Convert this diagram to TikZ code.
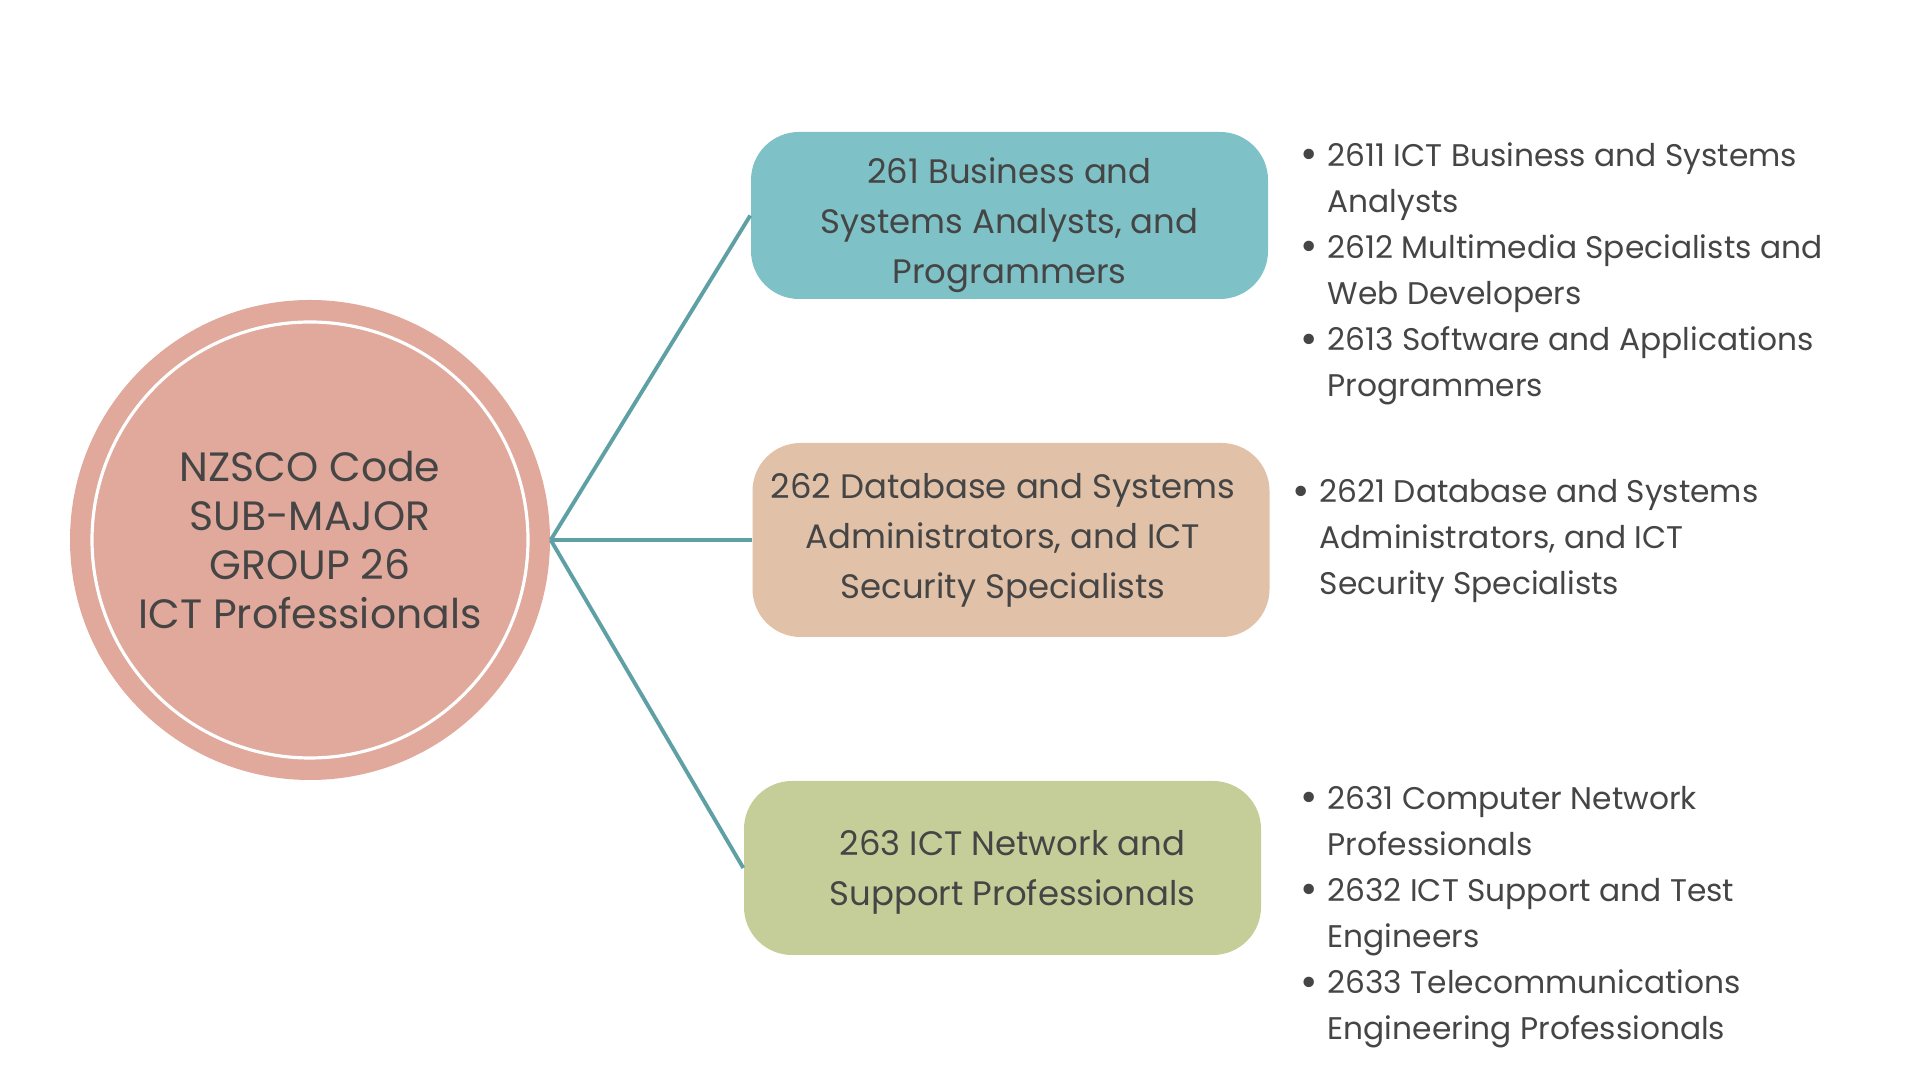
\documentclass[tikz,border=0pt]{standalone}
\usepackage{fontspec}
\setmainfont{Poppins}
\definecolor{kreisrot}{HTML}{E0A99B}
\definecolor{tuerkis}{HTML}{7EC1C6}
\definecolor{pfirsich}{HTML}{E1C2A8}
\definecolor{oliv}{HTML}{C5CE98}
\definecolor{linie}{HTML}{5FA0A4}
\definecolor{schrift}{HTML}{454545}
\newcommand{\pkt}{\makebox[0.27cm][l]{\raisebox{-0.6pt}{\scalebox{1.35}{•}}}}
\newcommand{\einr}{\hspace*{0.27cm}}
\begin{document}
\begin{tikzpicture}[
    kasten/.style={rounded corners=0.48cm, minimum width=5.17cm},
    kastentext/.style={text=schrift, align=center, font=\fontsize{9.65}{14.2}\selectfont},
    liste/.style={anchor=base west, inner sep=0pt, align=left, text=schrift, font=\fontsize{8.9}{13.1}\selectfont},
    verbindung/.style={draw=linie, line width=1.1pt}
]
            \useasboundingbox (0,0) rectangle (19.2,10.8);

            % Kreis
            \node[circle, fill=kreisrot, minimum size=4.8cm, inner sep=0pt, text=schrift, align=center, font=\fontsize{11.65}{14.0}\selectfont] (kreis) at (3.10, 5.40) {NZSCO Code\\SUB-MAJOR\\GROUP 26\\ICT Professionals};
            \draw[white, line width=0.9pt] (kreis.center) circle (2.18cm);

            % Kaesten
            \node[kasten, fill=tuerkis, minimum height=1.67cm, label={[kastentext, yshift=-0.10cm]center:261 Business and\\Systems Analysts, and\\Programmers}] (k261) at (10.095, 8.645) {};
            \node[kasten, fill=pfirsich, minimum height=1.94cm, label={[kastentext, xshift=-0.08cm]center:262 Database and Systems\\Administrators, and ICT\\Security Specialists}] (k262) at (10.11, 5.40) {};
            \node[kasten, fill=oliv, minimum height=1.74cm, label={[kastentext, xshift=0.10cm, yshift=-0.04cm]center:263 ICT Network and\\Support Professionals}] (k263) at (10.025, 2.12) {};

            % Verbindungen
            \draw[verbindung] (kreis.east) -- (k261.west);
            \draw[verbindung] (kreis.east) -- (k262.west);
            \draw[verbindung] (kreis.east) -- (k263.west);

            % Listen
            \node[liste] (l261) at (13.00, 6.83) {\pkt 2611 ICT Business and Systems\\ \einr Analysts\\ \pkt 2612 Multimedia Specialists and\\ \einr Web Developers\\ \pkt 2613 Software and Applications\\ \einr Programmers};
            \node[liste] (l262) at (12.92, 4.85) {\pkt 2621 Database and Systems\\ \einr Administrators, and ICT\\ \einr Security Specialists};
            \node[liste] (l263) at (13.00, 0.40) {\pkt 2631 Computer Network\\ \einr Professionals\\ \pkt 2632 ICT Support and Test\\ \einr Engineers\\ \pkt 2633 Telecommunications\\ \einr Engineering Professionals};
\end{tikzpicture}
\end{document}
